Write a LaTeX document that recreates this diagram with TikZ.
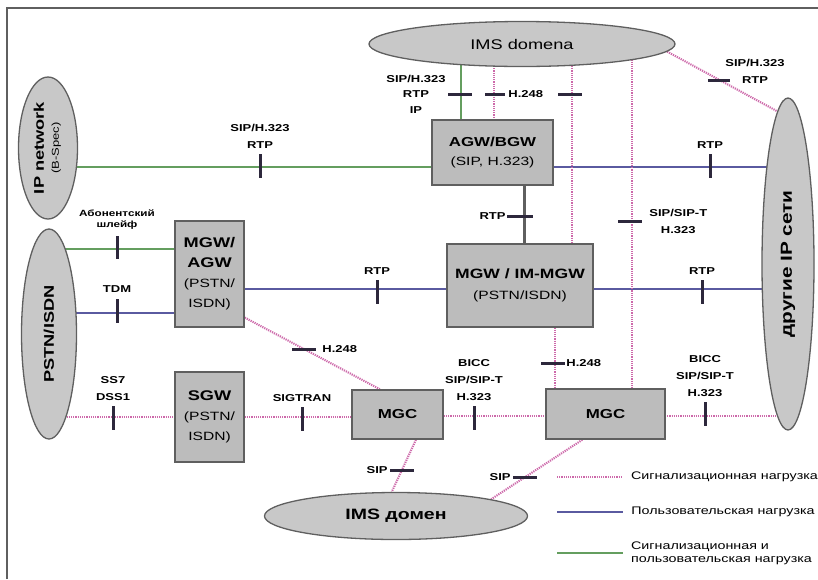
\documentclass[tikz,border=0pt]{standalone}
\usepackage{fontspec}
\setmainfont{Liberation Sans}[FakeStretch=1.3]
\usetikzlibrary{shapes.geometric}
\usetikzlibrary{backgrounds}
\usetikzlibrary{positioning}

\definecolor{boxfill}{RGB}{188,188,188}
\definecolor{ovalfill}{RGB}{200,200,200}
\definecolor{edgegray}{RGB}{95,95,95}
\definecolor{sigpink}{RGB}{205,105,170}
\definecolor{userblue}{RGB}{90,90,160}
\definecolor{mixgreen}{RGB}{100,158,95}
\definecolor{tickdark}{RGB}{45,40,60}

\newcommand{\subline}{\fontsize{12}{15}\selectfont\mdseries}

\tikzset{
	frame/.style={edgegray, line width=2.5pt},
	gwbox/.style={draw=edgegray, fill=boxfill, line width=1.6pt, align=center, inner sep=0pt, font=\fontsize{13}{19}\selectfont\bfseries},
	oval/.style={ellipse, draw=edgegray, fill=ovalfill, line width=1.3pt, inner sep=0pt, align=center},
	sigline/.style={sigpink, line width=2.1pt, dash pattern=on 1.2pt off 1pt},
	userline/.style={userblue, line width=2.8pt},
	mixline/.style={mixgreen, line width=2.3pt},
	trunk/.style={edgegray, line width=3pt},
	vtick/.style={fill=tickdark, minimum width=3pt, minimum height=24pt, inner sep=0pt},
	htick/.style={fill=tickdark, minimum width=24pt, minimum height=3pt, inner sep=0pt},
	proto/.style={font=\fontsize{10}{17}\selectfont\bfseries, align=center, inner sep=0pt},
	legtext/.style={font=\fontsize{11}{13}\selectfont, text=black, align=left, anchor=west, inner sep=0pt, xshift=7pt},
}

\begin{document}
\begin{tikzpicture}[x=1pt, y=-1pt]
	\useasboundingbox (0,0) rectangle (818,579);
	\draw[frame] (7,579) -- (7,8) -- (818,8);

	\node[oval, minimum width=59pt, minimum height=142pt] (ipnet) at (48,148) {\rotatebox{90}{\begin{tabular}{@{}c@{}}\fontsize{14}{16}\selectfont\bfseries IP network\\[3pt]\fontsize{10}{12}\selectfont (B-Spec)\end{tabular}}};
	\node[oval, minimum width=55pt, minimum height=210pt] (pstn) at (49,334) {\rotatebox{90}{\fontsize{14}{16}\selectfont\bfseries PSTN/ISDN}};
	\node[oval, minimum width=52pt, minimum height=332pt] (other) at (788,264) {\rotatebox{90}{\fontsize{16}{18}\selectfont\bfseries другие IP сети}};
	\node[oval, minimum width=306pt, minimum height=45pt, font=\fontsize{14}{16}\selectfont] (imsTop) at (522,44) {IMS domena};
	\node[oval, minimum width=263pt, minimum height=47pt, font=\fontsize{15}{17}\selectfont\bfseries] (imsBot) at (396,516) {IMS домен};

	\node[gwbox, minimum width=121pt, minimum height=65pt] (agw) at (492.5,152.5) {AGW/BGW\\\subline (SIP, H.323)};
	\node[gwbox, minimum width=69pt, minimum height=106pt, font=\fontsize{14}{20}\selectfont\bfseries] (mgwagw) at (209.5,274) {MGW/\\AGW\\\subline (PSTN/\\\subline ISDN)};
	\node[gwbox, minimum width=146pt, minimum height=83pt, font=\fontsize{13.5}{21}\selectfont\bfseries] (mgw) at (520,285.5) {MGW / IM-MGW\\\subline (PSTN/ISDN)};
	\node[gwbox, minimum width=69pt, minimum height=90pt, font=\fontsize{14}{20}\selectfont\bfseries] (sgw) at (209.5,417) {SGW\\\subline (PSTN/\\\subline ISDN)};
	\node[gwbox, minimum width=91pt, minimum height=49pt] (mgcA) at (397.5,414.5) {MGC};
	\node[gwbox, minimum width=119pt, minimum height=50pt] (mgcB) at (605.5,414) {MGC};

	\begin{pgfonlayer}{background}
		\draw[mixline] (ipnet.center |- 0,167) -- (agw.center |- 0,167);
		\draw[mixline] (pstn.center |- 0,249) -- (mgwagw.center |- 0,249);
		\draw[mixline] (461,0 |- imsTop.center) -- (461,0 |- agw.center);
		\draw[userline] (agw.center |- 0,167) -- (other.center |- 0,167);
		\draw[userline] (pstn.center |- 0,313) -- (mgwagw.center |- 0,313);
		\draw[userline] (mgwagw.center |- 0,289) -- (mgw.center |- 0,289);
		\draw[userline] (mgw.center |- 0,289) -- (other.center |- 0,289);
		\draw[trunk] (524,0 |- agw.center) -- (524,0 |- mgw.center);
		\draw[sigline] (494,0 |- imsTop.center) -- (494,0 |- agw.center);
		\draw[sigline] (572,0 |- imsTop.center) -- (572,0 |- mgw.center);
		\draw[sigline] (632,0 |- imsTop.center) -- (632,0 |- mgcB.center);
		\draw[sigline] (555,0 |- mgw.center) -- (555,0 |- mgcB.center);
		\draw[sigline] (pstn.center |- sgw.center) -- (sgw.center);
		\draw[sigline] (sgw.center) -- (mgcA.center |- sgw.center);
		\draw[sigline] (mgcA.center |- 0,416) -- (mgcB.center |- 0,416);
		\draw[sigline] (mgcB.center |- 0,416) -- (other.center |- 0,416);
		\draw[sigline] (imsTop.-3) -- (other.94);
		\draw[sigline] (mgwagw.-51) -- (mgcA.125);
		\draw[sigline] (mgcA.-54) -- (imsBot.100);
		\draw[sigline] (mgcB.-132) -- (imsBot.10);
	\end{pgfonlayer}

	\node[vtick] (tkIp) at (260,166) {};
	\node[proto, above=5pt of tkIp] (lbIp) {SIP/H.323\\RTP};
	\node[vtick] (tkAgwRtp) at (710,166) {};
	\node[proto, above=5pt of tkAgwRtp] (lbAgwRtp) {RTP};
	\node[vtick, minimum height=23pt] (tkLoop) at (117,247) {};
	\node[proto, above=6pt of tkLoop, font=\fontsize{9}{11}\selectfont\bfseries] (lbLoop) {Абонентский\\шлейф};
	\node[vtick] (tkTdm) at (117,311) {};
	\node[proto, above=6pt of tkTdm] (lbTdm) {TDM};
	\node[vtick] (tkRtpA) at (377,292) {};
	\node[proto, above=5pt of tkRtpA] (lbRtpA) {RTP};
	\node[vtick] (tkRtpB) at (702,292) {};
	\node[proto, above=5pt of tkRtpB] (lbRtpB) {RTP};
	\node[vtick] (tkSs7) at (113,418) {};
	\node[proto, above=5pt of tkSs7] (lbSs7) {SS7\\DSS1};
	\node[vtick] (tkSigtran) at (302,419) {};
	\node[proto, above=5pt of tkSigtran] (lbSigtran) {SIGTRAN};
	\node[vtick] (tkBiccA) at (474,418) {};
	\node[proto, above=5pt of tkBiccA] (lbBiccA) {BICC\\SIP/SIP-T\\H.323};
	\node[vtick] (tkBiccB) at (705,414) {};
	\node[proto, above=5pt of tkBiccB] (lbBiccB) {BICC\\SIP/SIP-T\\H.323};

	\node[htick] (tkImsSig) at (460,94) {};
	\node[proto, left=2pt of tkImsSig, font=\fontsize{10}{15.5}\selectfont\bfseries] (lbImsSig) {SIP/H.323\\RTP\\IP};
	\node[htick, minimum width=20pt] (tkH248a) at (495,94) {};
	\node[proto, right=3pt of tkH248a] (lbH248a) {H.248};
	\node[htick] (tkH248b) at (570,94) {};
	\node[htick, minimum width=22pt] (tkSipRtp) at (719,80) {};
	\node[proto, font=\fontsize{10}{17}\selectfont\bfseries] (lbSipRtp) at (755,71) {SIP/H.323\\RTP};
	\node[htick, minimum width=26pt] (tkTrunk) at (520,216) {};
	\node[proto, left=1pt of tkTrunk] (lbTrunk) {RTP};
	\node[htick] (tkSipT) at (630,221) {};
	\node[proto, right=7pt of tkSipT] (lbSipT) {SIP/SIP-T\\H.323};
	\node[htick] (tkH248c) at (553,363) {};
	\node[proto, right=1pt of tkH248c] (lbH248c) {H.248};
	\node[htick] (tkH248d) at (304,349) {};
	\node[proto, right=6pt of tkH248d] (lbH248d) {H.248};
	\node[htick] (tkSipA) at (402,470) {};
	\node[proto, left=2pt of tkSipA] (lbSipA) {SIP};
	\node[htick] (tkSipB) at (525,477) {};
	\node[proto, left=2pt of tkSipB] (lbSipB) {SIP};

	\draw[sigline] (557,477) -- (623,477) node[legtext] (legSig) {Сигнализационная нагрузка};
	\draw[userline] (557,512) -- (623,512) node[legtext] (legUser) {Пользовательская нагрузка};
	\draw[mixline] (557,553) -- (623,553) node[legtext] (legMix) {Сигнализационная и\\пользовательская нагрузка};
\end{tikzpicture}
\end{document}
